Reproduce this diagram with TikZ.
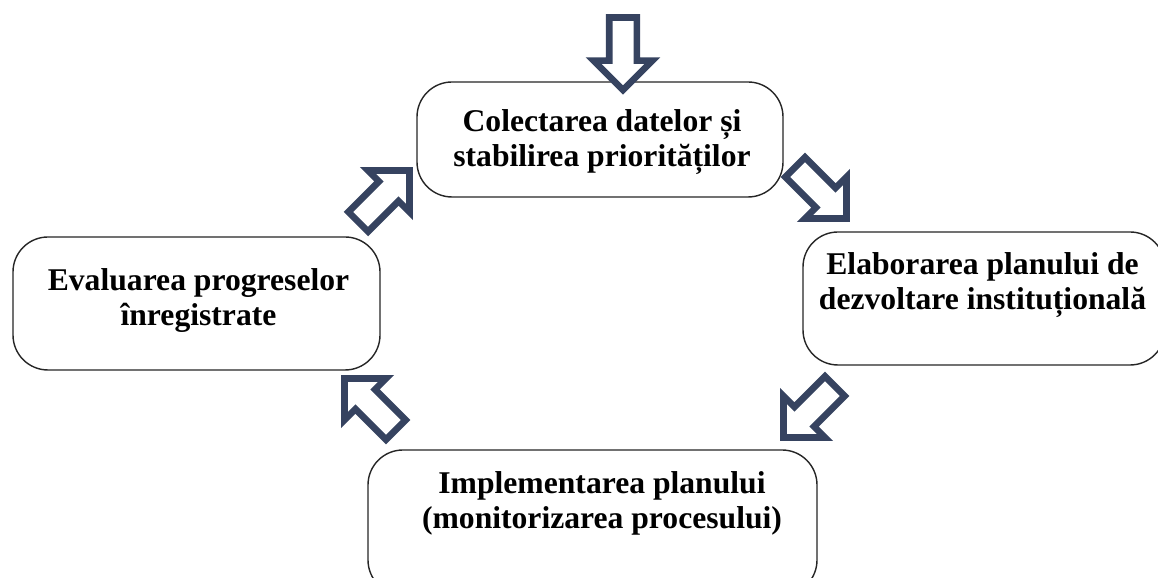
\documentclass[tikz,border=0pt]{standalone}
\usepackage{fontspec}
\setmainfont{Liberation Serif}
\usepackage{tikz}
\usetikzlibrary{shapes.arrows}
\definecolor{arrowNavy}{RGB}{54,67,96}
\tikzstyle{stage} = [rectangle, rounded corners=0.7cm, draw=black!85, line width=0.8pt, fill=white]
\tikzstyle{stageText} = [text centered, align=center, font=\bfseries\fontsize{18}{19.9}\selectfont]
\tikzstyle{flow} = [single arrow, draw=arrowNavy, line width=3.8pt, fill=white, inner xsep=0pt, inner ysep=0.21cm, outer sep=0pt, minimum height=1.45cm, single arrow head extend=0.31cm, anchor=tip]

\begin{document}
\begin{tikzpicture}
	\useasboundingbox (0,0) rectangle (23.16,11.56);
	
	\node (collect) [stage, minimum width=7.32cm, minimum height=2.3cm] at (12.0,8.77) {};
	\node (elaborate) [stage, minimum width=7.24cm, minimum height=2.66cm] at (19.68,5.59) {};
	\node (evaluate) [stage, minimum width=7.34cm, minimum height=2.66cm] at (3.93,5.49) {};
	\node (implement) [stage, minimum width=8.98cm, minimum height=2.9cm] at (11.85,1.11) {};
	
	\node (collectText) [stageText] at (12.04,8.71) {Colectarea datelor și\\stabilirea priorităților};
	\node (elaborateText) [stageText] at (19.65,5.85) {Elaborarea planului de\\dezvoltare instituțională};
	\node (evaluateText) [stageText] at (3.97,5.55) {Evaluarea progreselor\\înregistrate};
	\node (implementText) [stageText] at (12.04,1.49) {Implementarea planului\\(monitorizarea procesului)};
	
	\node (startArrow) [flow, rotate=-90] at (12.46,9.76) {};
	\node (collectToElaborate) [flow, rotate=-45] at (16.93,7.19) {};
	\node (elaborateToImplement) [flow, rotate=-135] at (15.67,2.81) {};
	\node (implementToEvaluate) [flow, rotate=135] at (6.89,3.99) {};
	\node (evaluateToCollect) [flow, rotate=45] at (8.19,8.15) {};
\end{tikzpicture}
\end{document}
